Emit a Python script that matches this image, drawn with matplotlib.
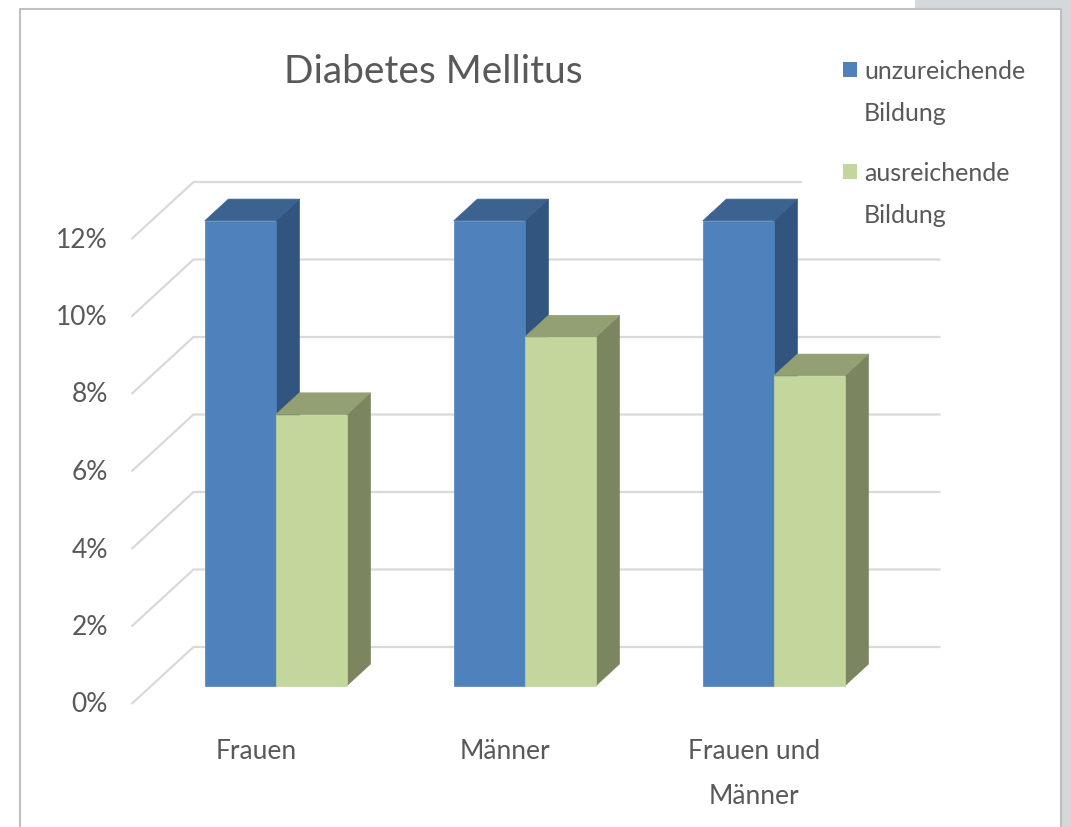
import matplotlib
matplotlib.use("Agg")
import matplotlib.pyplot as plt
from matplotlib.patches import Polygon, Rectangle

plt.rcParams['font.family'] = ['Lato', 'DejaVu Sans']

categories = ['Frauen', 'Männer', 'Frauen und\nMänner']
series_names = ['unzureichende\nBildung', 'ausreichende\nBildung']
unzureichend = [12, 12, 12]
ausreichend = [7, 9, 8]
yticks = [0, 2, 4, 6, 8, 10, 12]
ytick_labels = ['0%', '2%', '4%', '6%', '8%', '10%', '12%']
title = 'Diabetes Mellitus'

front_colors = ['#4F81BD', '#C3D69B']
top_colors = ['#3C6390', '#93A073']
side_colors = ['#325580', '#7B8660']

W, H = 1071, 828
TXT = '#595959'


def px(x, y):
    # pixel position -> figure fraction
    return x / W, 1 - y / H


def main():
    fig = plt.figure(figsize=(W / 100, H / 100), dpi=100)
    fig.patch.set_facecolor('white')

    # page frame / screenshot surroundings
    fig.patches.append(Rectangle(px(1061, 828), 10 / W, 1, transform=fig.transFigure,
                                 facecolor='#D3D8DB', edgecolor='none', zorder=0))
    fig.patches.append(Rectangle(px(915, 10), 156 / W, 10 / H, transform=fig.transFigure,
                                 facecolor='#D3D8DB', edgecolor='none', zorder=0))
    fig.add_artist(plt.Line2D([20 / W, 20 / W, 1061 / W, 1061 / W],
                              [0, 1 - 10 / H, 1 - 10 / H, 0],
                              transform=fig.transFigure, color='#BFBFBF', lw=1.5))

    # data axes: category units on x, percent on y (front plane)
    ax = fig.add_axes([0, 0, 1, 1])
    ax.axis('off')
    sx = 249.0   # px per category
    sy = 38.75   # px per percent
    x0, y0 = 256, 705
    ax.set_xlim(-x0 / sx, (W - x0) / sx)
    ax.set_ylim(-(H - y0) / sy, y0 / sy)

    DX, DY = 62 / sx, 57 / sy     # wall depth
    bw = 71 / sx                  # bar width
    d0, bd = 0.32, 0.38           # bar depth position / thickness

    # gridlines on side and back wall
    for v, lab in zip(yticks, ytick_labels):
        ax.plot([-0.5, -0.5 + DX, 2.5 + DX], [v, v + DY, v + DY],
                color='#D9D9D9', lw=1.6, zorder=1, solid_capstyle='butt')
        ax.text((108 - x0) / sx, v, lab, ha='right', va='center',
                fontsize=19, color=TXT)

    # 3d columns
    for c in range(len(categories)):
        for s, vals in enumerate([unzureichend, ausreichend]):
            v = vals[c]
            xl = c - bw + s * bw + d0 * DX
            xr = xl + bw
            yb = d0 * DY
            yt = v + d0 * DY
            ddx, ddy = bd * DX, bd * DY
            front = [(xl, yb), (xr, yb), (xr, yt), (xl, yt)]
            top = [(xl, yt), (xr, yt), (xr + ddx, yt + ddy), (xl + ddx, yt + ddy)]
            side = [(xr, yb), (xr + ddx, yb + ddy), (xr + ddx, yt + ddy), (xr, yt)]
            for pts, col in [(side, side_colors[s]), (top, top_colors[s]), (front, front_colors[s])]:
                ax.add_patch(Polygon(pts, closed=True, facecolor=col, edgecolor=col,
                                     lw=0.5, zorder=3))

    for c, lab in enumerate(categories):
        ax.text(c, (y0 - 739) / sy, lab, ha='center', va='top', fontsize=19,
                color=TXT, linespacing=2.0)

    # legend area (white box hides the top gridline)
    fig.patches.append(Rectangle(px(802, 235), 250 / W, 190 / H, transform=fig.transFigure,
                                 facecolor='white', edgecolor='none', zorder=2))
    for s, name in enumerate(series_names):
        ytop = 63 + s * 102
        fig.patches.append(Rectangle(px(843, ytop + 15), 14 / W, 15 / H,
                                     transform=fig.transFigure,
                                     facecolor=front_colors[s], edgecolor='none', zorder=4))
        fig.text(*px(864, ytop - 3), name, ha='left', va='top', fontsize=18,
                 color=TXT, linespacing=2.0, zorder=5)

    fig.text(*px(433, 72), title, ha='center', va='center', fontsize=28, color=TXT)

    fig.savefig('out.png', dpi=100)


if __name__ == '__main__':
    main()
